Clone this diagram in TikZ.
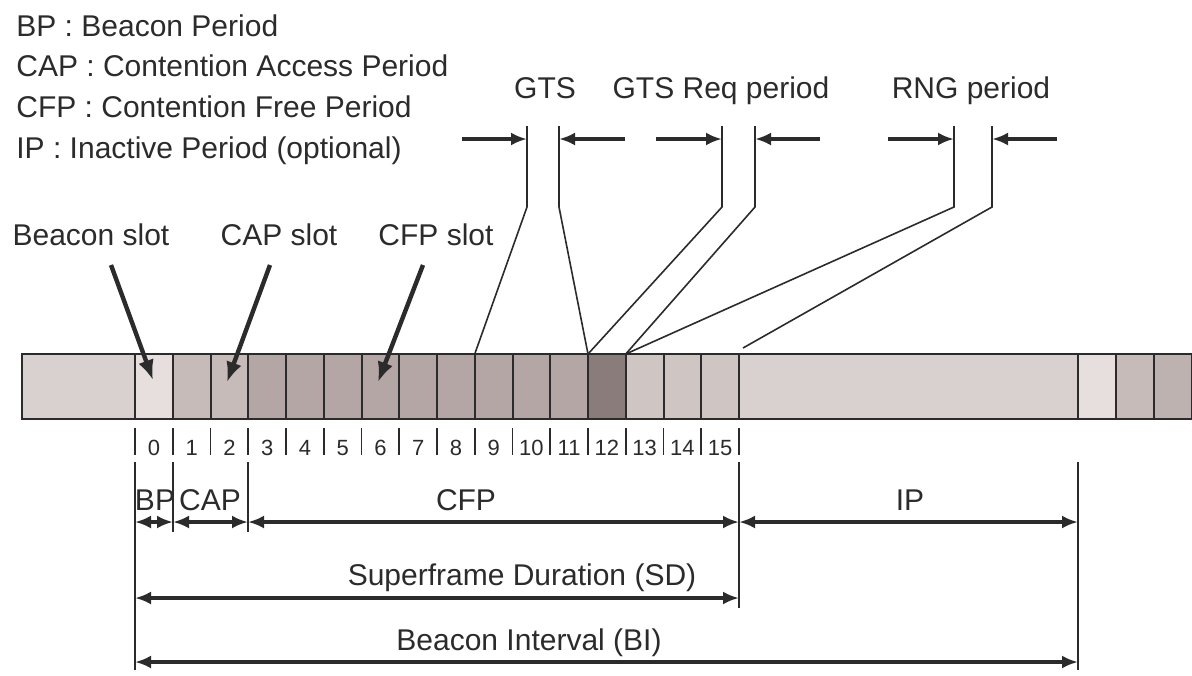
\documentclass[tikz,border=0pt]{standalone}
\usepackage{fontspec}
\setmainfont{Liberation Sans}
\usetikzlibrary{arrows.meta}

\definecolor{inkc}{HTML}{2B2B2B}
\definecolor{outc}{HTML}{D9D1CF}
\definecolor{bcnc}{HTML}{E7DFDE}
\definecolor{capc}{HTML}{C7BBB9}
\definecolor{cfpc}{HTML}{B4A6A4}
\definecolor{gtsc}{HTML}{8A7C7A}
\definecolor{endc}{HTML}{CFC5C3}

\begin{document}
\begin{tikzpicture}[x=0.5pt,y=-0.5pt,
  slotbox/.style={draw=inkc,line width=1pt},
  lbl/.style={font=\fontsize{15}{18}\selectfont,text=inkc,inner sep=0pt,anchor=base},
  num/.style={font=\fontsize{11}{12}\selectfont,text=inkc,inner sep=0pt,anchor=base},
  dim/.style={draw=inkc,line width=1.8pt,{Latex[length=8pt,width=6.5pt]}-{Latex[length=8pt,width=6.5pt]}},
  ptr/.style={draw=inkc,line width=2.2pt,-{Latex[length=10pt,width=8pt]}},
  hint/.style={draw=inkc,line width=1.8pt,-{Latex[length=8pt,width=6.5pt]}},
  guide/.style={draw=inkc,line width=0.8pt}]
\useasboundingbox (0,0) rectangle (1192,675);

% legend
\node[lbl,anchor=base west] (kbp)  at (16,36)  {BP : Beacon Period};
\node[lbl,anchor=base west] (kcap) at (16,76)  {CAP : Contention Access Period};
\node[lbl,anchor=base west] (kcfp) at (16,117) {CFP : Contention Free Period};
\node[lbl,anchor=base west] (kip)  at (16,158) {IP : Inactive Period (optional)};

% superframe bar
\draw[slotbox,fill=outc] (22,354) rectangle (135,419);
\foreach \i/\c in {0/bcnc,1/capc,2/capc,3/cfpc,4/cfpc,5/cfpc,6/cfpc,7/cfpc,8/cfpc,
                   9/cfpc,10/cfpc,11/cfpc,12/gtsc,13/endc,14/endc,15/endc}{
  \draw[slotbox,fill=\c] ({135+37.75*\i},354) coordinate (s\i) rectangle ++(37.75,65);
  \node[num] (n\i) at ({135+37.75*(\i+0.5)},455) {\i};
}
\draw[slotbox,fill=outc] (739,354) rectangle (1078,419);
\draw[slotbox,fill=bcnc] (1078,354) rectangle (1116,419);
\draw[slotbox,fill=capc] (1116,354) rectangle (1154,419);
\draw[slotbox,fill=capc!95!black] (1154,354) rectangle (1192,419);
\coordinate (s16) at (739,354);

% ticks under the slot numbers
\foreach \i in {0,...,16}
  \draw[guide] ({135+37.75*\i},428) -- ({135+37.75*\i},455);

% slot pointers
\node[lbl] (bslot) at (91,245)  {Beacon slot};
\node[lbl] (cslot) at (279,245) {CAP slot};
\node[lbl] (fslot) at (436,245) {CFP slot};
\coordinate (pb) at (111,265); \coordinate (qb) at (153,380);
\coordinate (pc) at (270,265); \coordinate (qc) at (227,382);
\coordinate (pf) at (423,265); \coordinate (qf) at (378,382);
\draw[ptr] (pb) -- (qb);
\draw[ptr] (pc) -- (qc);
\draw[ptr] (pf) -- (qf);

% zoomed periods
\node[lbl] (gts) at (545,98) {GTS};
\node[lbl] (req) at (721,98) {GTS Req period};
\node[lbl] (rng) at (971,98) {RNG period};
\coordinate (rngend) at (743,348);
\draw[guide] (527,126) -- (527,207) -- (s9);
\draw[guide] (559,126) -- (559,207) -- (s12);
\draw[guide] (722,126) -- (722,207) -- (s12);
\draw[guide] (755,126) -- (755,207) -- (s13);
\draw[guide] (954,126) -- (954,207) -- (s13);
\draw[guide] (992,126) -- (992,207) -- (rngend);
\draw[hint] (462,139) -- (527,139);
\draw[hint] (625,139) -- (559,139);
\draw[hint] (656,139) -- (722,139);
\draw[hint] (820,139) -- (755,139);
\draw[hint] (888,139) -- (954,139);
\draw[hint] (1057,139) -- (992,139);

% durations
\coordinate (d0) at (135,462);  \coordinate (d1) at (173,462);
\coordinate (d3) at (248,462);  \coordinate (d16) at (739,462);
\coordinate (dip) at (1078,462);
\draw[guide] (d0) -- (135,670);
\draw[guide] (d1) -- (173,532);
\draw[guide] (d3) -- (248,532);
\draw[guide] (d16) -- (739,608);
\draw[guide] (dip) -- (1078,670);
\node[lbl] (bp)  at (155,510) {BP};
\node[lbl] (cap) at (210,510) {CAP};
\node[lbl] (cfp) at (466,510) {CFP};
\node[lbl] (ip)  at (910,510) {IP};
\node[lbl] (sd)  at (522,585) {Superframe Duration (SD)};
\node[lbl] (bi)  at (529,650) {Beacon Interval (BI)};
\draw[dim] (135,522) -- (173,522);
\draw[dim] (173,522) -- (248,522);
\draw[dim] (248,522) -- (739,522);
\draw[dim] (739,522) -- (1078,522);
\draw[dim] (135,598) -- (739,598);
\draw[dim] (135,662) -- (1078,662);
\end{tikzpicture}
\end{document}
